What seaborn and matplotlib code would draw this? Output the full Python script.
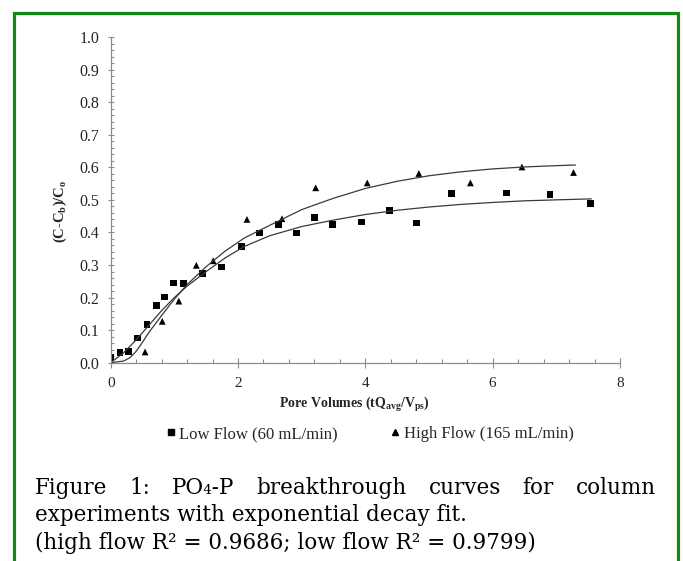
import numpy as np
import pandas as pd
import matplotlib
matplotlib.use("Agg")
import matplotlib.pyplot as plt
import matplotlib.patches as patches
from matplotlib.ticker import MultipleLocator
import seaborn as sns

# pontos medidos - low flow (quadrados)
low_x = [0.0, 0.145, 0.275, 0.42, 0.57, 0.72, 0.85, 0.99, 1.145, 1.44, 1.74, 2.05,
         2.34, 2.63, 2.92, 3.20, 3.49, 3.94, 4.38, 4.80, 5.35, 6.22, 6.90, 7.54]
low_y = [0.015, 0.031, 0.034, 0.076, 0.118, 0.176, 0.202, 0.245, 0.242, 0.274, 0.294, 0.357,
         0.398, 0.425, 0.398, 0.447, 0.425, 0.432, 0.467, 0.429, 0.520, 0.521, 0.516, 0.490]

# pontos medidos - high flow (triangulos)
high_x = [0.0, 0.54, 0.81, 1.07, 1.345, 1.61, 2.14, 2.69, 3.22, 4.03, 4.84, 5.65, 6.46, 7.27]
high_y = [0.0, 0.033, 0.127, 0.189, 0.299, 0.313, 0.440, 0.442, 0.537, 0.552, 0.581, 0.552, 0.601, 0.584]

# curvas de ajuste
fit_low_x = [0, 0.2, 0.4, 0.6, 0.8, 1.0, 1.2, 1.5, 1.8, 2.1, 2.5, 3.0, 3.5, 4.0, 4.5,
             5.0, 5.5, 6.0, 6.5, 7.0, 7.55]
fit_low_y = [0, 0.03, 0.07, 0.115, 0.16, 0.2, 0.235, 0.28, 0.322, 0.357, 0.39, 0.418, 0.438,
             0.455, 0.468, 0.478, 0.486, 0.492, 0.497, 0.500, 0.503]
fit_high_x = [0, 0.2, 0.3, 0.4, 0.5, 0.6, 0.8, 1.0, 1.2, 1.5, 1.8, 2.1, 2.5, 3.0, 3.5,
              4.0, 4.5, 5.0, 5.5, 6.0, 6.5, 7.0, 7.3]
fit_high_y = [0, 0.005, 0.015, 0.035, 0.063, 0.093, 0.145, 0.195, 0.24, 0.295, 0.343, 0.383,
              0.422, 0.47, 0.505, 0.535, 0.557, 0.574, 0.586, 0.595, 0.601, 0.605, 0.607]

labels = ['Low Flow (60 mL/min)', 'High Flow (165 mL/min)']

df_pts = pd.concat([
    pd.DataFrame({'x': low_x, 'y': low_y, 'serie': labels[0]}),
    pd.DataFrame({'x': high_x, 'y': high_y, 'serie': labels[1]}),
])
df_fit = pd.concat([
    pd.DataFrame({'x': fit_low_x, 'y': fit_low_y, 'serie': labels[0]}),
    pd.DataFrame({'x': fit_high_x, 'y': fit_high_y, 'serie': labels[1]}),
])

sns.set_style('white')
plt.rcParams['font.family'] = ['Liberation Serif', 'DejaVu Serif']
plt.rcParams['mathtext.fontset'] = 'custom'
plt.rcParams['mathtext.rm'] = 'Liberation Serif'
plt.rcParams['mathtext.it'] = 'Liberation Serif:italic'
plt.rcParams['mathtext.bf'] = 'Liberation Serif:bold'

W, H = 683, 561
fig = plt.figure(figsize=(W / 100, H / 100), dpi=100)
ax = fig.add_axes([110.7 / W, 1 - 362.7 / H, (620 - 110.7) / W, (362.7 - 37) / H])

sns.lineplot(data=df_fit, x='x', y='y', units='serie', estimator=None, sort=False,
             color='#3a3a3a', linewidth=0.9, ax=ax, legend=False)
sns.scatterplot(data=df_pts, x='x', y='y', style='serie', markers={labels[0]: 's', labels[1]: '^'},
                s=24, color='black', edgecolor='none', ax=ax, legend=False)

ax.set_xlim(0, 8)
ax.set_ylim(0, 1.0)
ax.xaxis.set_major_locator(MultipleLocator(2))
ax.xaxis.set_minor_locator(MultipleLocator(0.4))
ax.yaxis.set_major_locator(MultipleLocator(0.1))
ax.yaxis.set_minor_locator(MultipleLocator(0.02))
ax.yaxis.set_major_formatter(plt.FormatStrFormatter('%.1f'))

sns.despine(ax=ax)
for s in ['left', 'bottom']:
    ax.spines[s].set_color('#8c8c8c')
    ax.spines[s].set_linewidth(0.9)
ax.tick_params(axis='x', which='major', direction='inout', length=7, width=0.8,
               color='#8c8c8c', labelsize=11, pad=7, bottom=True)
ax.tick_params(axis='x', which='minor', direction='in', length=3, width=0.8,
               color='#8c8c8c', bottom=True)
ax.tick_params(axis='y', which='major', direction='inout', length=4.5, width=0.8,
               color='#8c8c8c', labelsize=11.5, pad=6, left=True)
ax.tick_params(axis='y', which='minor', direction='in', length=2.5, width=0.8,
               color='#8c8c8c', left=True)

ax.set_xlabel('')
ax.set_ylabel('')
fig.text(354 / W, 1 - 405 / H, r'Pore Volumes (tQ$_{\mathbf{avg}}$/V$_{\mathbf{ps}}$)',
         ha='center', va='center', fontsize=10, fontweight='bold')
fig.text(60 / W, 1 - 211 / H, r'(C-C$_{\mathbf{b}}$)/C$_{\mathbf{o}}$',
         ha='center', va='center', rotation=90, fontsize=10.5, fontweight='bold')

# legenda
handles = [plt.Line2D([], [], marker='s', color='black', linestyle='none', markersize=4),
           plt.Line2D([], [], marker='^', color='black', linestyle='none', markersize=4.5)]
fig.legend(handles, labels, loc='center', bbox_to_anchor=(370 / W, 1 - 434 / H), ncol=2,
           frameon=False, fontsize=12, handlelength=0.5, handletextpad=0.25,
           columnspacing=3.2)

# legenda da figura (texto justificado na primeira linha)
cap_font = dict(family='DejaVu Serif', fontsize=15.5, color='black')
fig.canvas.draw()
renderer = fig.canvas.get_renderer()
words = ['Figure', '1:', 'PO\u2084-P', 'breakthrough', 'curves', 'for', 'column']
x_start, x_end = 35, 656
widths = []
for w in words:
    t = fig.text(0, 0, w, **cap_font)
    widths.append(t.get_window_extent(renderer).width)
    t.remove()
gap = (x_end - x_start - sum(widths)) / (len(words) - 1)
xp = x_start
for w, wd in zip(words, widths):
    fig.text(xp / W, 1 - 494 / H, w, ha='left', va='baseline', **cap_font)
    xp += wd + gap
fig.text(x_start / W, 1 - 521.5 / H, 'experiments with exponential decay fit.',
         ha='left', va='baseline', **cap_font)
fig.text(x_start / W, 1 - 549 / H, '(high flow R\u00b2 = 0.9686; low flow R\u00b2 = 0.9799)',
         ha='left', va='baseline', **cap_font)

# moldura verde
fig.patches.append(patches.Rectangle((14 / W, -0.05), (678 - 14) / W, 1.05 - 13 / H,
                                     transform=fig.transFigure, fill=False,
                                     edgecolor='#128a12', linewidth=2.3))

fig.savefig('out.png', dpi=100)
